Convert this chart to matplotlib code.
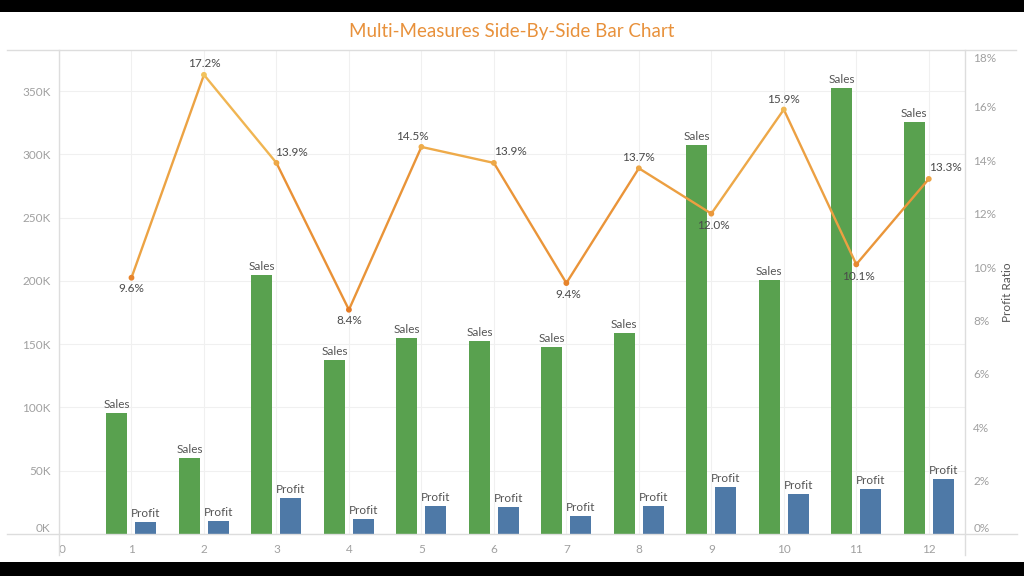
import matplotlib.pyplot as plt
import matplotlib.colors as mcolors
from matplotlib.patches import Rectangle
from matplotlib.lines import Line2D

plt.rcParams['font.family'] = ['Lato', 'DejaVu Sans']

months = [1, 2, 3, 4, 5, 6, 7, 8, 9, 10, 11, 12]
sales = [95.6, 59.8, 205.0, 137.8, 155.0, 152.8, 147.5, 159.0, 307.5, 200.3, 352.5, 325.3]
sales = [s * 1000 for s in sales]
profit = [9.2, 10.3, 28.5, 11.6, 22.5, 21.2, 13.9, 21.8, 36.9, 31.8, 35.5, 43.3]
profit = [p * 1000 for p in profit]
ratio = [0.096, 0.172, 0.139, 0.084, 0.145, 0.139, 0.094, 0.137, 0.120, 0.159, 0.101, 0.133]
ratio_labels = ['9.6%', '17.2%', '13.9%', '8.4%', '14.5%', '13.9%',
                '9.4%', '13.7%', '12.0%', '15.9%', '10.1%', '13.3%']
left_ticks = [0, 50000, 100000, 150000, 200000, 250000, 300000, 350000]
left_tick_labels = ['0K', '50K', '100K', '150K', '200K', '250K', '300K', '350K']
right_ticks = [0, 0.02, 0.04, 0.06, 0.08, 0.10, 0.12, 0.14, 0.16, 0.18]
right_tick_labels = ['0%', '2%', '4%', '6%', '8%', '10%', '12%', '14%', '16%', '18%']

# label offsets in pixels (dx, dy) for the ratio labels
label_offsets = [(0, -11), (0, 11), (15, 10), (0, -11), (-9, 10), (17, 11),
                 (2, -11), (0, 11), (2, -12), (0, 10), (2, -12), (17, 11)]

green = '#59A14F'
blue = '#4E79A7'
grey = '#a0a0a0'
text_col = '#555555'
W, H = 1024, 576

fig = plt.figure(figsize=(10.24, 5.76), dpi=100, facecolor='black')
fig.patches.append(Rectangle((0, 1 - 562 / H), 1, 550 / H, transform=fig.transFigure,
                             facecolor='white', edgecolor='none', zorder=-5))

ax = fig.add_axes([59 / W, 1 - 534 / H, (965 - 59) / W, (534 - 50) / H])
ax.set_facecolor('none')
ax2 = ax.twinx()

w = 0.29
off = 0.2
xs = [m - off for m in months]
xp = [m + off for m in months]
ax.bar(xs, sales, width=w, color=green, zorder=2)
ax.bar(xp, profit, width=w, color=blue, zorder=2)
for x, s in zip(xs, sales):
    ax.annotate('Sales', (x, s), xytext=(0, 3), textcoords='offset pixels',
                ha='center', va='bottom', fontsize=8.5, color=text_col)
for x, p in zip(xp, profit):
    ax.annotate('Profit', (x, p), xytext=(0, 3), textcoords='offset pixels',
                ha='center', va='bottom', fontsize=8.5, color=text_col)

ax.set_xlim(0, 12.5)
ax.set_ylim(0, 382400)
ax.set_xticks(range(13))
ax.set_xticklabels([str(i) for i in range(13)])
ax.xaxis.get_ticklabels()[0].set_horizontalalignment('left')
ax.set_yticks(left_ticks)
ax.set_yticklabels(left_tick_labels)
ax.yaxis.get_ticklabels()[0].set_verticalalignment('bottom')
ax.tick_params(axis='both', length=0, colors=grey, labelsize=8.5)
ax.tick_params(axis='x', pad=7)
ax.tick_params(axis='y', pad=6)
ax.grid(True, color='#f0f0f0', linewidth=0.8, zorder=0)
ax.set_axisbelow(True)
for sp in ax.spines.values():
    sp.set_visible(False)

# profit ratio line, coloured by value
cmap = mcolors.LinearSegmentedColormap.from_list('orng', ['#E57B25', '#F2C25C'])
norm = mcolors.Normalize(vmin=min(ratio), vmax=max(ratio))
for i in range(len(months) - 1):
    mid = (ratio[i] + ratio[i + 1]) / 2
    ax2.plot(months[i:i + 2], ratio[i:i + 2], color=cmap(norm(mid)), linewidth=1.7,
             solid_capstyle='round', zorder=3)
ax2.scatter(months, ratio, c=[cmap(norm(r)) for r in ratio], s=10, zorder=4)
for m, r, lab, (dx, dy) in zip(months, ratio, ratio_labels, label_offsets):
    ax2.annotate(lab, (m, r), xytext=(dx, dy), textcoords='offset pixels',
                 ha='center', va='center', fontsize=8.5, color='#4a4a4a')
ax2.set_ylim(0, 0.1813)
ax2.set_yticks(right_ticks)
ax2.set_yticklabels(right_tick_labels)
ax2.yaxis.get_ticklabels()[0].set_verticalalignment('bottom')
ax2.yaxis.get_ticklabels()[-1].set_verticalalignment('top')
ax2.tick_params(axis='y', length=0, colors=grey, labelsize=8.5, pad=6)
ax2.set_ylabel('Profit Ratio', color=text_col, fontsize=8.5, labelpad=4)
for sp in ax2.spines.values():
    sp.set_visible(False)

# frame lines
line_col = '#dddddd'
fig.add_artist(Line2D([7 / W, 1016 / W], [1 - 50 / H, 1 - 50 / H], color=line_col, linewidth=1))
fig.add_artist(Line2D([7 / W, 1017 / W], [1 - 534 / H, 1 - 534 / H], color=line_col, linewidth=1))
fig.add_artist(Line2D([59 / W, 59 / W], [1 - 50 / H, 1 - 555 / H], color=line_col, linewidth=1))
fig.add_artist(Line2D([965 / W, 965 / W], [1 - 50 / H, 1 - 555 / H], color=line_col, linewidth=1))

fig.text(0.5, 1 - 32 / H, 'Multi-Measures Side-By-Side Bar Chart', ha='center', va='center',
         fontsize=13.5, color='#E8913B')

fig.savefig('out.png', dpi=100, facecolor=fig.get_facecolor())
